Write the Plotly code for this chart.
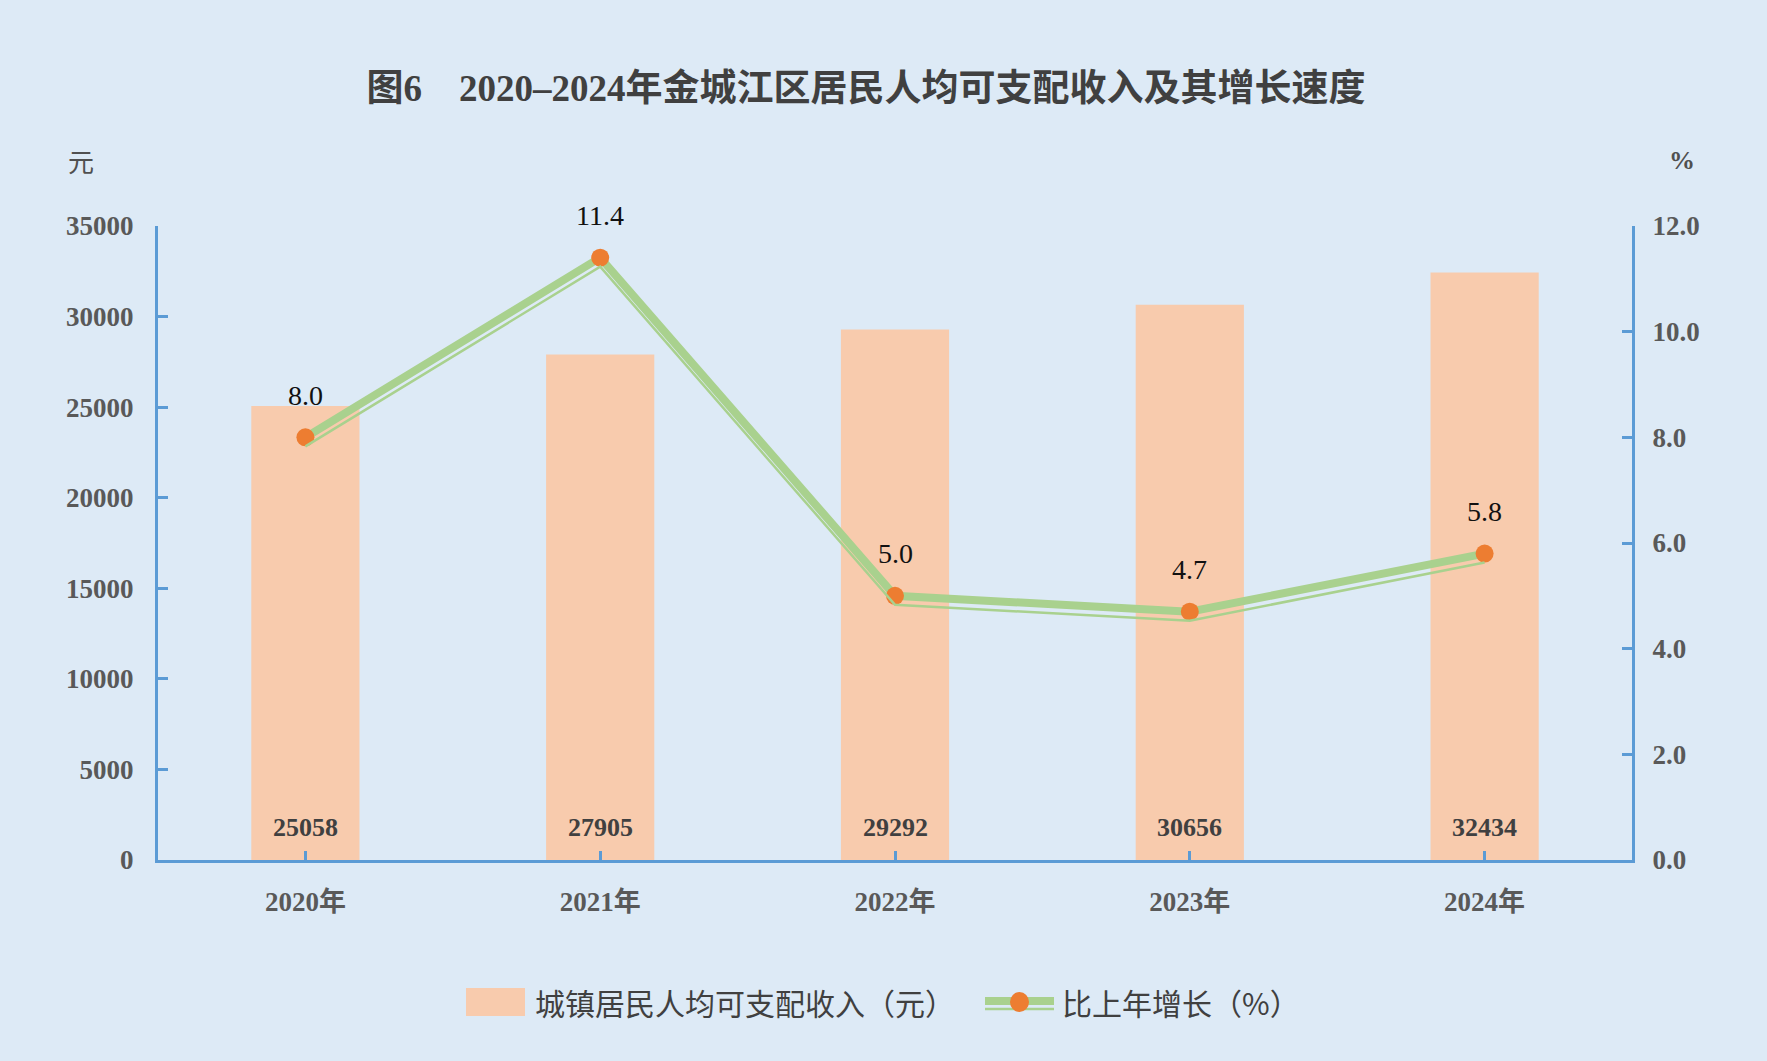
import plotly.graph_objects as go

years = ["2020年", "2021年", "2022年", "2023年", "2024年"]
income = [25058, 27905, 29292, 30656, 32434]
growth = [8.0, 11.4, 5.0, 4.7, 5.8]
left_ticks = [0, 5000, 10000, 15000, 20000, 25000, 30000, 35000]
right_ticks = [0, 2, 4, 6, 8, 10, 12]
right_tick_text = ["0.0", "2.0", "4.0", "6.0", "8.0", "10.0", "12.0"]

BG = "#DDEAF6"
BLUE = "#5B9BD5"
BAR = "#F8CBAD"
GREEN = "#A9D18E"
ORANGE = "#ED7D31"
SERIF = "Liberation Serif, Noto Sans CJK SC"
L, R, T, B = 158, 135, 226, 201
W, H = 1767, 1061
PW, PH = W - L - R, H - T - B
offset_val = 9 * 12 / PH  # pixel offset for the thin companion line


def px(xp):
    return (xp - L) / PW


def py(yp):
    return (H - B - yp) / PH


fig = go.Figure()
fig.add_trace(go.Bar(
    x=years, y=income, name="城镇居民人均可支配收入（元）",
    marker=dict(color=BAR, line=dict(width=0)), width=0.367,
    yaxis="y", hoverinfo="skip"))
fig.add_trace(go.Scatter(
    x=years, y=growth, mode="lines", showlegend=False,
    line=dict(color=GREEN, width=2.5), yaxis="y3", hoverinfo="skip"))
fig.add_trace(go.Scatter(
    x=years, y=growth, mode="lines+markers", name="比上年增长（%）",
    line=dict(color=GREEN, width=8),
    marker=dict(color=ORANGE, size=18, line=dict(width=0)),
    yaxis="y2", hoverinfo="skip"))

annotations = []
for yr, v in zip(years, income):
    annotations.append(dict(x=yr, y=0, xref="x", yref="y", text=str(v),
                            showarrow=False, yanchor="middle", yshift=33,
                            font=dict(family=SERIF, size=26, color="#404040", weight="bold")))
for yr, g in zip(years, growth):
    annotations.append(dict(x=yr, y=g, xref="x", yref="y2", text=f"{g:.1f}",
                            showarrow=False, yanchor="middle", yshift=42,
                            font=dict(family=SERIF, size=28, color="#111111")))
annotations.append(dict(x=px(81), y=py(160), xref="paper", yref="paper", text="元",
                        showarrow=False, xanchor="center", yanchor="middle",
                        font=dict(family="Noto Sans CJK SC", size=26, color="#505050")))
annotations.append(dict(x=px(1682), y=py(160), xref="paper", yref="paper", text="%",
                        showarrow=False, xanchor="center", yanchor="middle",
                        font=dict(family=SERIF, size=26, color="#505050", weight="bold")))

# manual legend
LEG_Y = 1002
legend_font = dict(family="Noto Sans CJK SC", size=30, color="#404040")
annotations.append(dict(x=px(533), y=py(LEG_Y), xref="paper", yref="paper",
                        text="城镇居民人均可支配收入（元）", showarrow=False,
                        xanchor="left", yanchor="middle", font=legend_font))
annotations.append(dict(x=px(1060), y=py(LEG_Y), xref="paper", yref="paper",
                        text="比上年增长（%）", showarrow=False,
                        xanchor="left", yanchor="middle", font=legend_font))
shapes = [
    dict(type="rect", xref="paper", yref="paper", x0=px(466), x1=px(525),
         y0=py(LEG_Y + 14), y1=py(LEG_Y - 14), fillcolor=BAR, line=dict(width=0)),
    dict(type="line", xref="paper", yref="paper", x0=px(985), x1=px(1054),
         y0=py(LEG_Y - 1), y1=py(LEG_Y - 1), line=dict(color=GREEN, width=8)),
    dict(type="line", xref="paper", yref="paper", x0=px(985), x1=px(1054),
         y0=py(LEG_Y + 7), y1=py(LEG_Y + 7), line=dict(color=GREEN, width=2.5)),
    dict(type="circle", xref="paper", yref="paper", x0=px(1010), x1=px(1029),
         y0=py(LEG_Y + 10), y1=py(LEG_Y - 10), fillcolor=ORANGE, line=dict(width=0)),
]

tickfont = dict(family=SERIF, size=27, color="#595959", weight="bold")

fig.update_layout(
    width=W, height=H,
    paper_bgcolor=BG, plot_bgcolor=BG,
    margin=dict(l=L, r=R, t=T, b=B),
    title=dict(text="图6　2020–2024年金城江区居民人均可支配收入及其增长速度",
               x=px(866), xref="paper", xanchor="center",
               y=1 - 88 / H, yanchor="middle",
               font=dict(family=SERIF, size=37, color="#404040", weight="bold")),
    xaxis=dict(range=[-0.5, 4.5], showline=True, linecolor=BLUE, linewidth=3,
               ticks="inside", ticklen=9, tickwidth=3, tickcolor=BLUE,
               tickfont=tickfont, ticklabelstandoff=16, showgrid=False, zeroline=False),
    yaxis=dict(range=[0, 35000], tickvals=left_ticks, ticktext=[str(v) for v in left_ticks],
               showline=True, linecolor=BLUE,
               linewidth=3, ticks="inside", ticklen=10, tickwidth=3, tickcolor=BLUE,
               tickfont=tickfont, ticklabelstandoff=16, showgrid=False, zeroline=False),
    yaxis2=dict(range=[0, 12], tickvals=right_ticks, ticktext=right_tick_text,
                overlaying="y", side="right", showline=True, linecolor=BLUE, linewidth=3,
                ticks="inside", ticklen=10, tickwidth=3, tickcolor=BLUE,
                tickfont=tickfont, ticklabelstandoff=12, showgrid=False, zeroline=False),
    yaxis3=dict(range=[offset_val, 12 + offset_val], overlaying="y", visible=False),
    showlegend=False,
    annotations=annotations,
    shapes=shapes,
)

fig.write_html("out.html", config={"displayModeBar": False},
               post_script="document.body.style.margin='0';document.body.style.background='#DDEAF6';")
